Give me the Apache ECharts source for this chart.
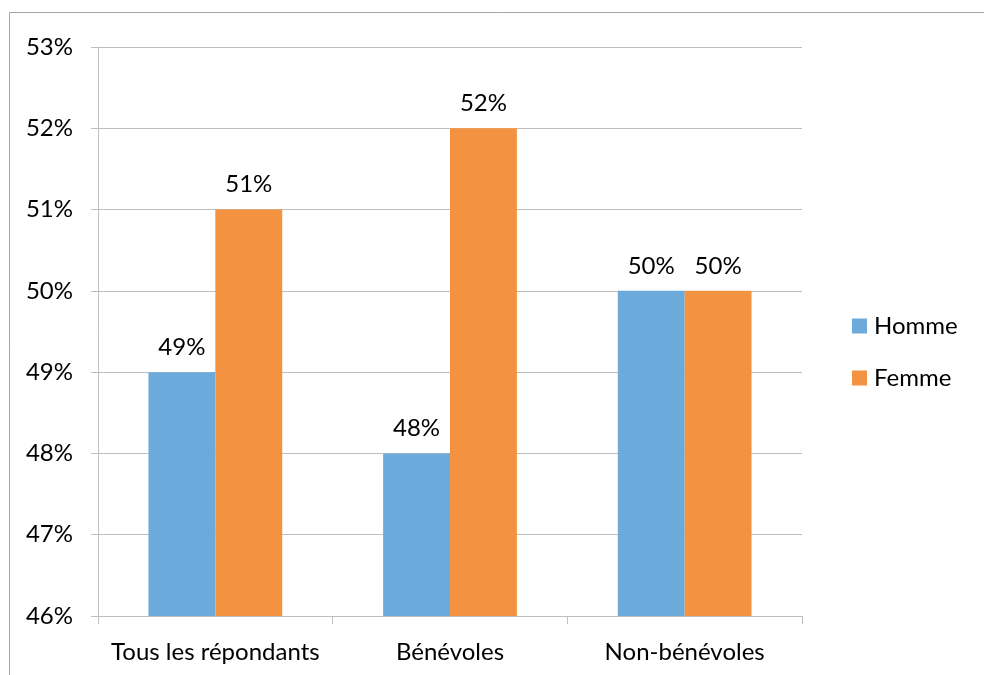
<!DOCTYPE html>
<html><head><meta charset="utf-8">
<script src="https://cdn.jsdelivr.net/npm/echarts@6/dist/echarts.min.js"></script>
<style>html,body{margin:0;padding:0;background:#fff}#c{width:984px;height:675px}</style>
</head><body><div id="c"></div>
<script>
const categories = ['Tous les répondants', 'Bénévoles', 'Non-bénévoles'];
const homme = [49, 48, 50];
const femme = [51, 52, 50];
const seriesNames = ['Homme', 'Femme'];

const FONT = 'Lato';
const FS = 24;
const chart = echarts.init(document.getElementById('c'), null, {renderer: 'canvas'});
const labelCfg = {show: true, position: 'top', distance: 13, formatter: p => p.value + '%', color: '#000', fontFamily: FONT, fontSize: FS};
chart.setOption({
  animation: false,
  graphic: [{type: 'rect', shape: {x: 9.5, y: 12.5, width: 1000, height: 700}, style: {fill: 'none', stroke: '#a6a6a6', lineWidth: 1}, silent: true}],
  grid: {left: 98, top: 47, right: 182, bottom: 59},
  legend: {orient: 'vertical', left: 847, top: 309, itemWidth: 15, itemHeight: 15, itemGap: 28, icon: 'rect',
    textStyle: {fontFamily: FONT, fontSize: FS, color: '#000', padding: [0,0,0,2]}, data: seriesNames},
  xAxis: {type: 'category', data: categories,
    axisLine: {lineStyle: {color: '#bfbfbf'}},
    axisTick: {show: true, length: 8, lineStyle: {color: '#bfbfbf'}},
    axisLabel: {color: '#000', fontFamily: FONT, fontSize: FS, margin: 24, interval: 0, hideOverlap: false}},
  yAxis: {type: 'value', min: 46, max: 53, interval: 1,
    axisLine: {show: true, lineStyle: {color: '#bfbfbf'}},
    axisTick: {show: true, length: 7, lineStyle: {color: '#bfbfbf'}},
    splitLine: {lineStyle: {color: '#bfbfbf'}},
    axisLabel: {formatter: '{value}%', color: '#000', fontFamily: FONT, fontSize: FS, margin: 25}},
  series: [
    {name: seriesNames[0], type: 'bar', data: homme, barGap: '0%', barCategoryGap: '43%', itemStyle: {color: '#6caadc'}, label: labelCfg},
    {name: seriesNames[1], type: 'bar', data: femme, barGap: '0%', barCategoryGap: '43%', itemStyle: {color: '#f39241'}, label: labelCfg}
  ]
});
</script></body></html>
